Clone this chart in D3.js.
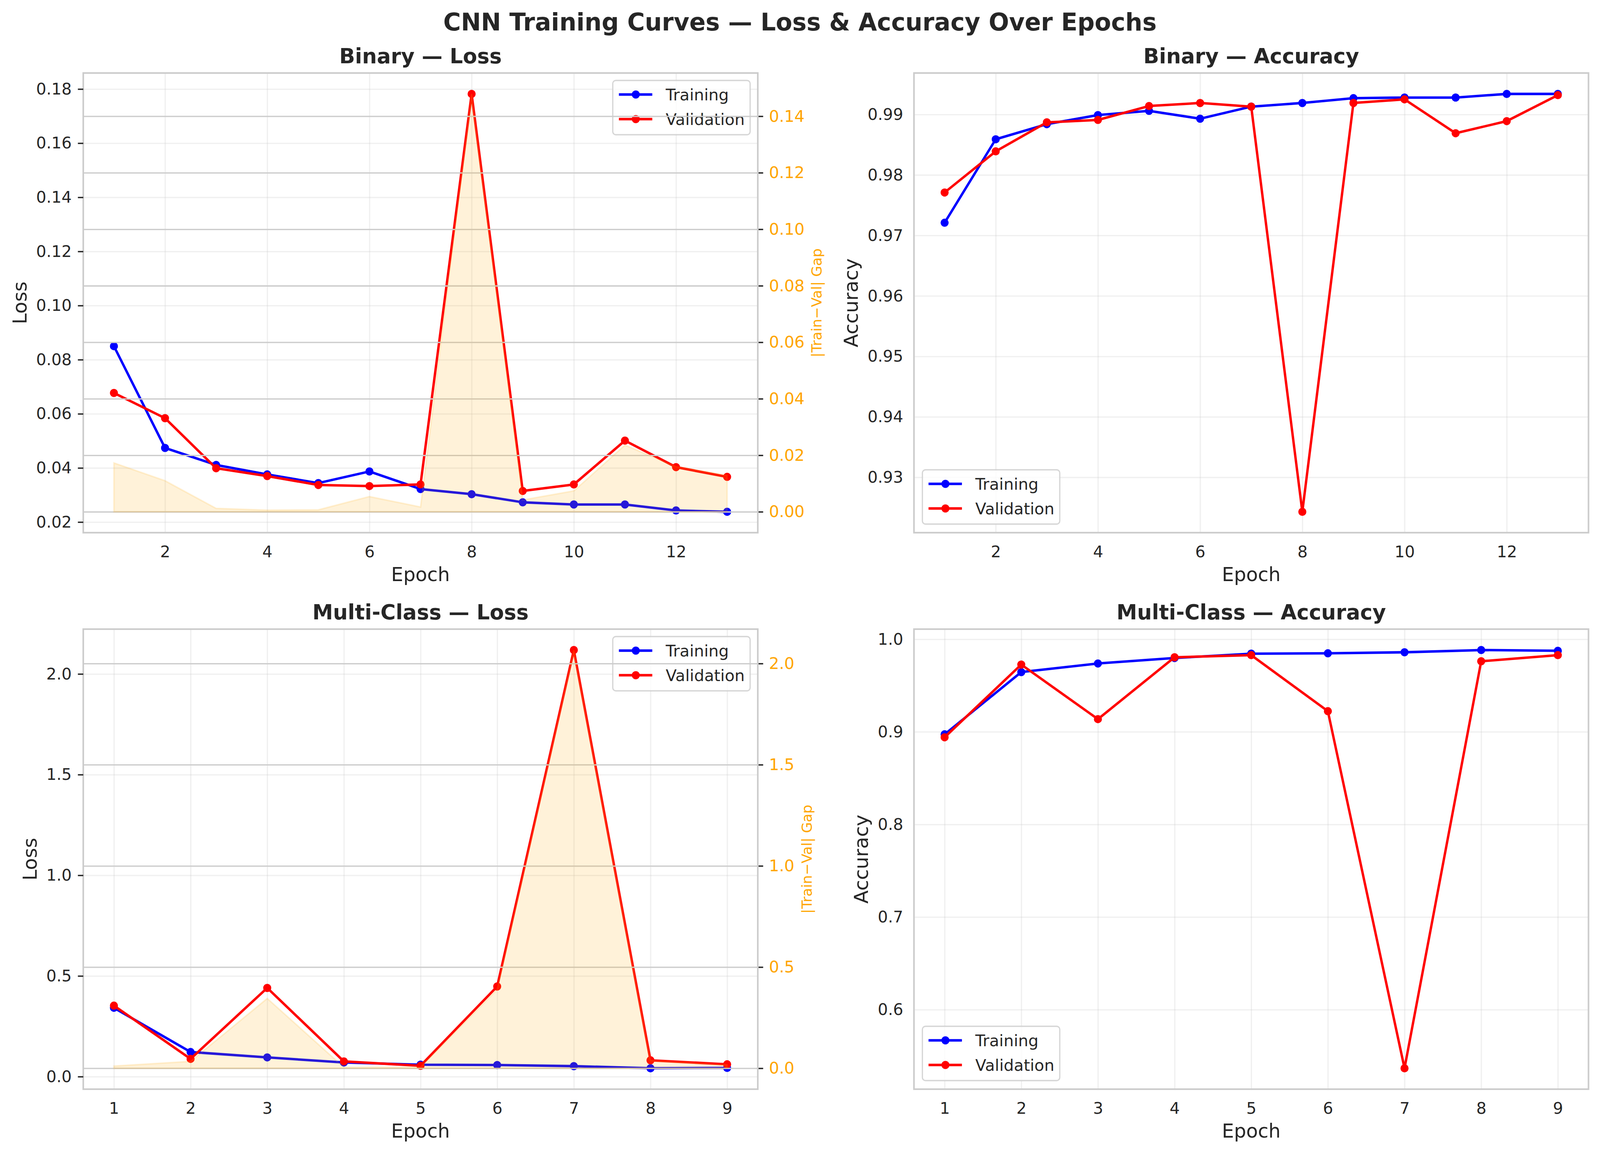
<!DOCTYPE html>
<html>
<head>
<meta charset="utf-8">
<script src="https://cdn.jsdelivr.net/npm/d3@7"></script>
<style>
html, body { margin: 0; padding: 0; background: #fff; overflow: hidden; }
svg { display: block; width: 100vw; height: 100vh; }
text { font-family: "DejaVu Sans", sans-serif; }
</style>
</head>
<body>
<script>
// values
const binaryEpochs = [1, 2, 3, 4, 5, 6, 7, 8, 9, 10, 11, 12, 13];
const binaryTrainLoss = [0.0850, 0.0474, 0.0411, 0.0376, 0.0344, 0.0387, 0.0322, 0.0303, 0.0273, 0.0265, 0.0265, 0.0243, 0.0238];
const binaryValLoss = [0.0677, 0.0584, 0.0399, 0.0370, 0.0337, 0.0333, 0.0339, 0.1782, 0.0315, 0.0339, 0.0501, 0.0403, 0.0367];
const binaryTrainAcc = [0.9721, 0.9859, 0.9884, 0.9899, 0.9906, 0.9893, 0.9913, 0.9919, 0.9927, 0.9928, 0.9928, 0.9934, 0.9934];
const binaryValAcc = [0.9771, 0.9839, 0.9887, 0.9891, 0.9914, 0.9919, 0.9913, 0.9243, 0.9919, 0.9925, 0.9869, 0.9889, 0.9932];

const multiEpochs = [1, 2, 3, 4, 5, 6, 7, 8, 9];
const multiTrainLoss = [0.3417, 0.1223, 0.0954, 0.0702, 0.0593, 0.0575, 0.0521, 0.0415, 0.0433];
const multiValLoss = [0.3526, 0.0882, 0.4406, 0.0756, 0.0539, 0.4478, 2.1188, 0.0810, 0.0611];
const multiTrainAcc = [0.8973, 0.9645, 0.9738, 0.9797, 0.9844, 0.9848, 0.9859, 0.9883, 0.9875];
const multiValAcc = [0.8941, 0.9726, 0.9137, 0.9805, 0.9828, 0.9223, 0.5367, 0.9762, 0.9828];

const binaryXTicks = [2, 4, 6, 8, 10, 12];
const multiXTicks = [1, 2, 3, 4, 5, 6, 7, 8, 9];
const binaryLossTicks = [0.02, 0.04, 0.06, 0.08, 0.10, 0.12, 0.14, 0.16, 0.18];
const binaryGapTicks = [0.00, 0.02, 0.04, 0.06, 0.08, 0.10, 0.12, 0.14];
const binaryAccTicks = [0.93, 0.94, 0.95, 0.96, 0.97, 0.98, 0.99];
const multiLossTicks = [0.0, 0.5, 1.0, 1.5, 2.0];
const multiGapTicks = [0.0, 0.5, 1.0, 1.5, 2.0];
const multiAccTicks = [0.6, 0.7, 0.8, 0.9, 1.0];

const ink = "#262626";
const tickFont = 41.7;

// the page fills whatever window it gets
const svg = d3.select("body").append("svg")
  .attr("viewBox", "0 0 4170 2955")
  .attr("preserveAspectRatio", "none");

svg.append("rect").attr("width", 4170).attr("height", 2955).attr("fill", "#fff");

svg.append("text")
  .attr("x", 2085).attr("y", 78)
  .attr("text-anchor", "middle")
  .attr("font-size", 62.5).attr("font-weight", "bold")
  .attr("fill", ink)
  .text("CNN Training Curves — Loss & Accuracy Over Epochs");

// matplotlib style 5% margins
function padded(values) {
  const [lo, hi] = d3.extent(values);
  const r = hi - lo;
  return [lo - 0.05 * r, hi + 0.05 * r];
}

function styleAxis(sel) {
  sel.attr("font-size", tickFont).attr("font-family", "DejaVu Sans").attr("color", ink);
  sel.select(".domain").remove();
}

function drawLegend(g, lx, ly) {
  const lg = g.append("g").attr("transform", `translate(${lx},${ly})`);
  lg.append("rect")
    .attr("width", 358).attr("height", 139).attr("rx", 8)
    .attr("fill", "#fff").attr("fill-opacity", 0.8)
    .attr("stroke", "#cccccc").attr("stroke-opacity", 0.8).attr("stroke-width", 3.3);
  const items = [["Training", "blue"], ["Validation", "red"]];
  const row = lg.selectAll(".item").data(items).enter().append("g")
    .attr("transform", (d, i) => `translate(0, ${36 + i * 63})`);
  row.append("line").attr("x1", 16).attr("x2", 103)
    .attr("stroke", d => d[1]).attr("stroke-width", 6.3);
  row.append("circle").attr("cx", 60).attr("r", 10.5).attr("fill", d => d[1]);
  row.append("text").attr("x", 138).attr("y", 15)
    .attr("font-size", 41.7).attr("fill", ink)
    .text(d => d[0]);
}

function drawPanel(box, o) {
  const w = box.x1 - box.x0, h = box.y1 - box.y0;
  const g = svg.append("g").attr("transform", `translate(${box.x0},${box.y0})`);

  const x = d3.scaleLinear().domain(padded(o.epochs)).range([0, w]);
  const y = d3.scaleLinear().domain(padded(o.train.concat(o.val))).range([h, 0]);

  // light primary grid
  const gx = g.append("g").attr("transform", `translate(0,${h})`)
    .call(d3.axisBottom(x).tickValues(o.xTicks).tickSize(-h).tickFormat(""));
  gx.select(".domain").remove();
  gx.selectAll("line").attr("stroke", "#cccccc").attr("stroke-opacity", 0.3).attr("stroke-width", 3.3);
  const gy = g.append("g")
    .call(d3.axisLeft(y).tickValues(o.yTicks).tickSize(-w).tickFormat(""));
  gy.select(".domain").remove();
  gy.selectAll("line").attr("stroke", "#cccccc").attr("stroke-opacity", 0.3).attr("stroke-width", 3.3);

  // training / validation curves
  const line = d3.line().x((d, i) => x(o.epochs[i])).y(d => y(d));
  [[o.train, "blue"], [o.val, "red"]].forEach(([vals, col]) => {
    g.append("path").datum(vals)
      .attr("d", line).attr("fill", "none")
      .attr("stroke", col).attr("stroke-width", 6.3)
      .attr("stroke-linejoin", "round").attr("stroke-linecap", "round");
    g.selectAll(null).data(vals).enter().append("circle")
      .attr("cx", (d, i) => x(o.epochs[i])).attr("cy", d => y(d))
      .attr("r", 10.5).attr("fill", col);
  });

  drawLegend(g, o.legend === "ur" ? w - 378 : 22, o.legend === "ur" ? 19 : h - 161);

  if (o.gapTicks) {
    const gap = o.train.map((t, i) => Math.abs(t - o.val[i]));
    const y2 = d3.scaleLinear().domain(padded([0].concat(gap))).range([h, 0]);

    const g2 = g.append("g")
      .call(d3.axisLeft(y2).tickValues(o.gapTicks).tickSize(-w).tickFormat(""));
    g2.select(".domain").remove();
    g2.selectAll("line").attr("stroke", "#cccccc").attr("stroke-width", 3.3);

    const area = d3.area().x((d, i) => x(o.epochs[i])).y0(y2(0)).y1(d => y2(d));
    g.append("path").datum(gap)
      .attr("d", area)
      .attr("fill", "orange").attr("fill-opacity", 0.15)
      .attr("stroke", "orange").attr("stroke-opacity", 0.15).attr("stroke-width", 4);

    const ra = g.append("g").attr("transform", `translate(${w},0)`)
      .call(d3.axisRight(y2).tickValues(o.gapTicks).tickSize(14).tickPadding(15)
        .tickFormat(d3.format(o.gapFmt)));
    styleAxis(ra);
    ra.selectAll("line").attr("stroke-width", 3.5);
    ra.selectAll("text").attr("fill", "orange");

    g.append("text")
      .attr("transform", `translate(${o.gapLabelX - box.x0},${h / 2}) rotate(-90)`)
      .attr("text-anchor", "middle")
      .attr("font-size", 36).attr("fill", "orange")
      .text("|Train\u2212Val| Gap");
  }

  // frame
  g.append("rect").attr("width", w).attr("height", h)
    .attr("fill", "none").attr("stroke", "#cccccc").attr("stroke-width", 4.2);

  const xa = g.append("g").attr("transform", `translate(0,${h})`)
    .call(d3.axisBottom(x).tickValues(o.xTicks).tickSize(0).tickPadding(33)
      .tickFormat(d3.format("d")));
  styleAxis(xa);

  const ya = g.append("g")
    .call(d3.axisLeft(y).tickValues(o.yTicks)
      .tickSize(o.gapTicks ? 14 : 0).tickPadding(o.gapTicks ? 16 : 28)
      .tickFormat(d3.format(o.yFmt)));
  styleAxis(ya);
  ya.selectAll("line").attr("stroke-width", 3.5);

  g.append("text")
    .attr("x", w / 2).attr("y", -25)
    .attr("text-anchor", "middle")
    .attr("font-size", 54).attr("font-weight", "bold").attr("fill", ink)
    .text(o.title);

  g.append("text")
    .attr("x", w / 2).attr("y", h + 124)
    .attr("text-anchor", "middle")
    .attr("font-size", 50).attr("fill", ink)
    .text("Epoch");

  g.append("text")
    .attr("transform", `translate(${o.yLabelX - box.x0},${h / 2}) rotate(-90)`)
    .attr("text-anchor", "middle")
    .attr("font-size", 50).attr("fill", ink)
    .text(o.yLabel);
}

drawPanel({x0: 217, x1: 1975, y0: 187, y1: 1364}, {
  epochs: binaryEpochs, train: binaryTrainLoss, val: binaryValLoss,
  xTicks: binaryXTicks, yTicks: binaryLossTicks, yFmt: ".2f",
  gapTicks: binaryGapTicks, gapFmt: ".2f", gapLabelX: 2141,
  title: "Binary — Loss", yLabel: "Loss", yLabelX: 69, legend: "ur"
});

drawPanel({x0: 2382, x1: 4140, y0: 187, y1: 1364}, {
  epochs: binaryEpochs, train: binaryTrainAcc, val: binaryValAcc,
  xTicks: binaryXTicks, yTicks: binaryAccTicks, yFmt: ".2f",
  title: "Binary — Accuracy", yLabel: "Accuracy", yLabelX: 2236, legend: "ll"
});

drawPanel({x0: 217, x1: 1975, y0: 1611, y1: 2789}, {
  epochs: multiEpochs, train: multiTrainLoss, val: multiValLoss,
  xTicks: multiXTicks, yTicks: multiLossTicks, yFmt: ".1f",
  gapTicks: multiGapTicks, gapFmt: ".1f", gapLabelX: 2116,
  title: "Multi-Class — Loss", yLabel: "Loss", yLabelX: 96, legend: "ur"
});

drawPanel({x0: 2382, x1: 4140, y0: 1611, y1: 2789}, {
  epochs: multiEpochs, train: multiTrainAcc, val: multiValAcc,
  xTicks: multiXTicks, yTicks: multiAccTicks, yFmt: ".1f",
  title: "Multi-Class — Accuracy", yLabel: "Accuracy", yLabelX: 2262, legend: "ll"
});
</script>
</body>
</html>
